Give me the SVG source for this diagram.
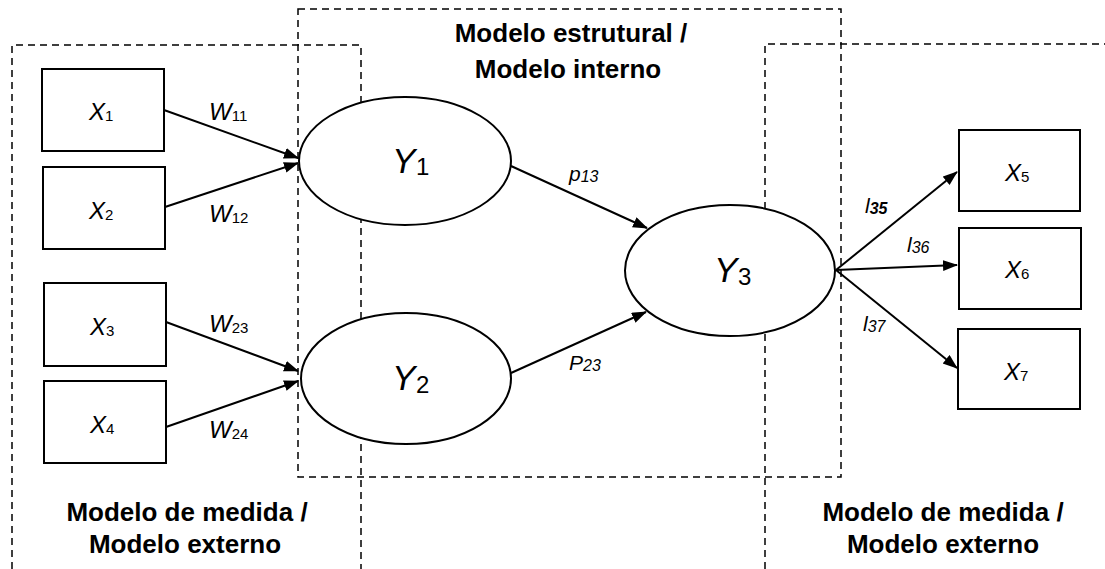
<svg xmlns="http://www.w3.org/2000/svg" width="1105" height="569" viewBox="0 0 1105 569">
  <style>
    .zone { fill: none; stroke: #000; stroke-width: 1.5; stroke-dasharray: 7 5; }
    .box { fill: #fff; stroke: #000; stroke-width: 2; }
    .lat { fill: #fff; stroke: #000; stroke-width: 2; }
    .edge { stroke: #000; stroke-width: 2; fill: none; marker-end: url(#arrow); }
    text { font-family: "Liberation Sans", Arial, sans-serif; fill: #000; }
    .title { font-size: 26px; font-weight: bold; text-anchor: middle; }
    .xv { font-size: 24px; font-style: italic; }
    .sub { font-size: 15px; font-style: normal; }
    .yv { font-size: 35px; font-style: italic; }
    .ysub { font-size: 24px; font-style: normal; }
    .w { font-size: 24px; font-style: italic; }
    .coef { font-size: 21px; font-style: italic; }
    .csub { font-size: 16px; font-style: italic; }
  </style>
  <defs>
    <marker id="arrow" markerUnits="userSpaceOnUse" markerWidth="16" markerHeight="12" refX="14" refY="5.5" orient="auto">
      <path d="M0,0 L15,5.5 L0,11 z" fill="#000"/>
    </marker>
  </defs>

  <rect width="1105" height="569" fill="#fff"/>

  <!-- dashed model regions -->
  <g id="zones">
    <path class="zone" d="M12,569 V45 H361 V569"/>
    <rect class="zone" x="298" y="9" width="543" height="468"/>
    <path class="zone" d="M765,569 V44 H1105"/>
  </g>

  <!-- region titles -->
  <g id="titles">
    <text class="title" x="571" y="42">Modelo estrutural /</text>
    <text class="title" x="568" y="78">Modelo interno</text>
    <text class="title" x="187" y="521">Modelo de medida /</text>
    <text class="title" x="185" y="553">Modelo externo</text>
    <text class="title" x="943" y="521">Modelo de medida /</text>
    <text class="title" x="943" y="553">Modelo externo</text>
  </g>

  <!-- connectors -->
  <g id="connectors">
    <line class="edge" x1="164" y1="110" x2="298" y2="158"/>
    <line class="edge" x1="165" y1="207" x2="298" y2="163"/>
    <line class="edge" x1="166" y1="322" x2="298" y2="371"/>
    <line class="edge" x1="166" y1="427" x2="298" y2="381"/>
    <line class="edge" x1="511" y1="166" x2="647" y2="228"/>
    <line class="edge" x1="511" y1="373" x2="646" y2="312"/>
    <line class="edge" x1="836" y1="270" x2="957" y2="172"/>
    <line class="edge" x1="836" y1="270" x2="957" y2="265"/>
    <line class="edge" x1="836" y1="270" x2="957" y2="368"/>

    <text class="w" x="209" y="120">W<tspan class="sub" dy="1">11</tspan></text>
    <text class="w" x="209" y="222">W<tspan class="sub" dy="1">12</tspan></text>
    <text class="w" x="209" y="332">W<tspan class="sub" dy="1">23</tspan></text>
    <text class="w" x="209" y="438">W<tspan class="sub" dy="1">24</tspan></text>
    <text class="coef" x="569" y="181">p<tspan class="csub" dy="1">13</tspan></text>
    <text class="coef" x="569" y="370">P<tspan class="csub" dy="1">23</tspan></text>
    <text class="coef" x="865" y="213">l<tspan class="csub" dy="1" font-weight="bold">35</tspan></text>
    <text class="coef" x="907" y="252">l<tspan class="csub" dy="1">36</tspan></text>
    <text class="coef" x="863" y="331">l<tspan class="csub" dy="1">37</tspan></text>
  </g>

  <!-- indicator nodes -->
  <g id="x1">
    <rect class="box" x="42" y="69" width="122" height="82"/>
    <text class="xv" x="89" y="120">X<tspan class="sub" dy="1">1</tspan></text>
  </g>
  <g id="x2">
    <rect class="box" x="43" y="167" width="122" height="82"/>
    <text class="xv" x="89" y="219">X<tspan class="sub" dy="1">2</tspan></text>
  </g>
  <g id="x3">
    <rect class="box" x="44" y="283" width="122" height="83"/>
    <text class="xv" x="90" y="335">X<tspan class="sub" dy="1">3</tspan></text>
  </g>
  <g id="x4">
    <rect class="box" x="44" y="381" width="122" height="82"/>
    <text class="xv" x="90" y="433">X<tspan class="sub" dy="1">4</tspan></text>
  </g>
  <g id="x5">
    <rect class="box" x="959" y="130" width="121" height="81"/>
    <text class="xv" x="1005" y="181">X<tspan class="sub" dy="1">5</tspan></text>
  </g>
  <g id="x6">
    <rect class="box" x="959" y="228" width="122" height="81"/>
    <text class="xv" x="1005" y="278">X<tspan class="sub" dy="1">6</tspan></text>
  </g>
  <g id="x7">
    <rect class="box" x="958" y="329" width="122" height="80"/>
    <text class="xv" x="1004" y="380">X<tspan class="sub" dy="1">7</tspan></text>
  </g>

  <!-- latent variables -->
  <g id="y1">
    <ellipse class="lat" cx="405" cy="161" rx="106" ry="64"/>
    <text class="yv" x="392" y="173">Y<tspan class="ysub" x="416" y="175">1</tspan></text>
  </g>
  <g id="y2">
    <ellipse class="lat" cx="406" cy="378.5" rx="105" ry="65.5"/>
    <text class="yv" x="392" y="390">Y<tspan class="ysub" x="416" y="393">2</tspan></text>
  </g>
  <g id="y3">
    <ellipse class="lat" cx="730" cy="270.5" rx="105" ry="65.5"/>
    <text class="yv" x="714" y="282">Y<tspan class="ysub" x="738" y="285">3</tspan></text>
  </g>
</svg>
